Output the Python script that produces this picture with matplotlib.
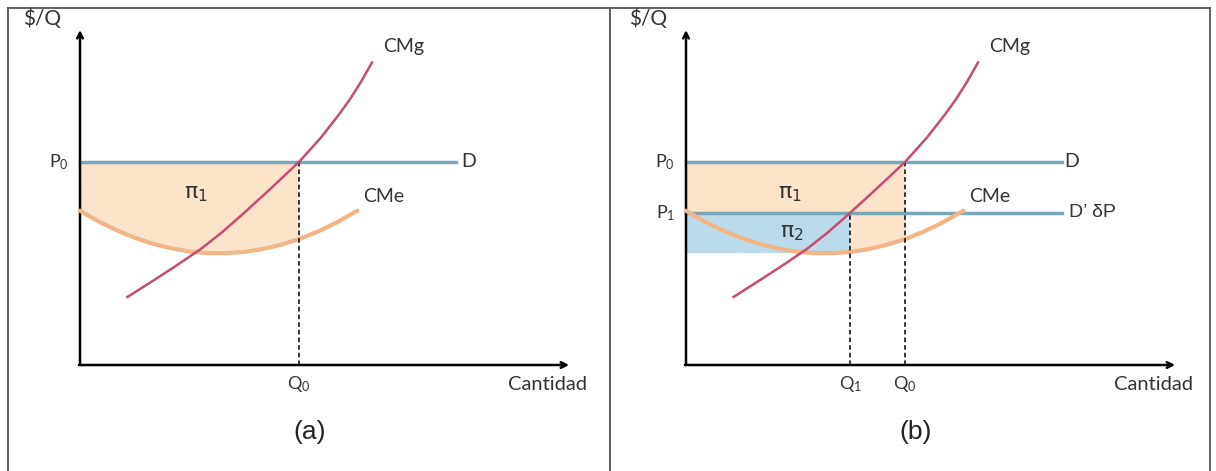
import matplotlib.pyplot as plt
import numpy as np

plt.rcParams['font.family'] = ['Lato', 'DejaVu Sans']
plt.rcParams['mathtext.fontset'] = 'custom'
plt.rcParams['mathtext.rm'] = 'Lato'
plt.rcParams['mathtext.it'] = 'Lato'
plt.rcParams['mathtext.default'] = 'regular'

# curve readings (quantity, $/Q)
cme_q = [0.0, 0.5, 1.0, 1.5, 2.0, 2.5, 3.0, 3.5, 4.0, 4.5, 5.0, 5.5, 6.0, 6.5, 7.0, 7.6]
cme_c = [7.6, 7.08, 6.64, 6.27, 5.97, 5.75, 5.59, 5.51, 5.51, 5.57, 5.71, 5.92, 6.2, 6.56, 6.99, 7.6]
cmg_q = [1.3, 2.0, 2.6, 3.3, 3.9, 4.5, 5.2, 6.0, 6.6, 7.1, 7.4, 7.7, 8.0]
cmg_c = [3.35, 4.15, 4.85, 5.7, 6.55, 7.5, 8.65, 10.0, 11.2, 12.35, 13.1, 13.95, 14.9]

p0, p1 = 10.0, 7.5
q0, q1 = 6.0, 4.5
pi2_low = 5.5
d_end = 10.3
x_end, y_end = 13.4, 16.5

c_d = '#79a7b9'
c_cmg = '#c64d72'
c_cme = '#f1b588'
c_fill = '#fbe4c9'
c_blue = '#bcdbea'
c_border = '#555555'
c_txt = '#333333'

W, H = 1216, 471
ux, uy = 36.5, 20.3  # px per unit


def panel(left_px, right_px, ox, oy=365, top_px=8):
    ax = fig.add_axes([left_px / W, 0, (right_px - left_px) / W, (H - top_px) / H])
    ax.set_xlim((left_px - ox) / ux, (right_px - ox) / ux)
    ax.set_ylim((oy - H) / uy, (oy - top_px) / uy)
    ax.set_xticks([])
    ax.set_yticks([])
    for s in ['left', 'right', 'top']:
        ax.spines[s].set_color(c_border)
        ax.spines[s].set_linewidth(1.3)
    ax.spines['bottom'].set_visible(False)
    # axes with arrows
    ax.annotate('', xy=(0, y_end), xytext=(0, 0),
                arrowprops=dict(arrowstyle='->', lw=1.8, color='black', shrinkA=0, shrinkB=0))
    ax.annotate('', xy=(x_end, 0), xytext=(-0.03, 0),
                arrowprops=dict(arrowstyle='->', lw=1.8, color='black', shrinkA=0, shrinkB=0))
    ax.text(-1.05, 17.05, r'\$/Q', fontsize=15, ha='center', va='center', color=c_txt)
    ax.text(12.8, -0.95, 'Cantidad', fontsize=14.5, ha='center', va='center', color=c_txt)
    return ax


def pi_label(ax, x, y, n):
    ax.text(x, y, 'π$_{%d}$' % n, fontsize=16, ha='center', va='center',
            color=c_txt, family='DejaVu Sans')


fig = plt.figure(figsize=(W / 100, H / 100), dpi=100)

cme_q_a = np.array(cme_q)
cme_c_a = np.array(cme_c)

# ---- panel (a)
ax = panel(8, 610, 80)
m = cme_q_a <= q0
ax.fill_between(cme_q_a[m], cme_c_a[m], p0, color=c_fill, lw=0, zorder=1)
ax.plot([0, d_end], [p0, p0], color=c_d, lw=2.5, zorder=2)
ax.plot(cme_q, cme_c, color=c_cme, lw=3, zorder=3, solid_capstyle='round')
ax.plot([q0, q0], [0, p0], color='black', lw=1.1, ls=(0, (3, 2)), zorder=3)
ax.plot(cmg_q, cmg_c, color=c_cmg, lw=1.8, zorder=4)
ax.text(-0.3, p0, r'$P_0$', fontsize=13, ha='right', va='center', color=c_txt)
ax.text(10.45, p0, 'D', fontsize=14, ha='left', va='center', color=c_txt)
ax.text(q0, -0.95, r'$Q_0$', fontsize=13, ha='center', va='center', color=c_txt)
pi_label(ax, 3.18, 8.4, 1)
ax.text(7.75, 8.3, 'CMe', fontsize=14, ha='left', va='center', color=c_txt)
ax.text(8.3, 15.7, 'CMg', fontsize=14, ha='left', va='center', color=c_txt)
ax.text(6.3, -3.3, '(a)', fontsize=19, ha='center', va='center', family='Liberation Sans', color='#222222')

# ---- panel (b)
ax = panel(610, 1210, 686)
ax.fill_between([0, q0], p1, p0, color=c_fill, lw=0, zorder=1)
m = (cme_q_a >= q1) & (cme_q_a <= q0)
ax.fill_between(cme_q_a[m], cme_c_a[m], p1, color=c_fill, lw=0, zorder=1)
ax.fill_between([0, q1], pi2_low, p1, color=c_blue, lw=0, zorder=1)
ax.plot([0, d_end], [p0, p0], color=c_d, lw=2.5, zorder=2)
ax.plot([0, d_end], [p1, p1], color=c_d, lw=2.5, zorder=2)
ax.plot(cme_q, cme_c, color=c_cme, lw=3, zorder=3, solid_capstyle='round')
ax.plot([q0, q0], [0, p0], color='black', lw=1.1, ls=(0, (3, 2)), zorder=3)
ax.plot([q1, q1], [0, p1], color='black', lw=1.1, ls=(0, (3, 2)), zorder=3)
ax.plot(cmg_q, cmg_c, color=c_cmg, lw=1.8, zorder=4)
ax.text(-0.3, p0, r'$P_0$', fontsize=13, ha='right', va='center', color=c_txt)
ax.text(-0.3, p1, r'$P_1$', fontsize=13, ha='right', va='center', color=c_txt)
ax.text(10.35, p0, 'D', fontsize=14, ha='left', va='center', color=c_txt)
ax.text(10.5, p1, 'D’ δP', fontsize=14, ha='left', va='center', family='Liberation Sans', color=c_txt)
ax.text(q0, -0.95, r'$Q_0$', fontsize=13, ha='center', va='center', color=c_txt)
ax.text(q1, -0.95, r'$Q_1$', fontsize=13, ha='center', va='center', color=c_txt)
pi_label(ax, 2.85, 8.4, 1)
pi_label(ax, 2.9, 6.5, 2)
ax.text(7.75, 8.3, 'CMe', fontsize=14, ha='left', va='center', color=c_txt)
ax.text(8.3, 15.7, 'CMg', fontsize=14, ha='left', va='center', color=c_txt)
ax.text(6.3, -3.3, '(b)', fontsize=19, ha='center', va='center', family='Liberation Sans', color='#222222')

fig.savefig('out.png', dpi=100)
